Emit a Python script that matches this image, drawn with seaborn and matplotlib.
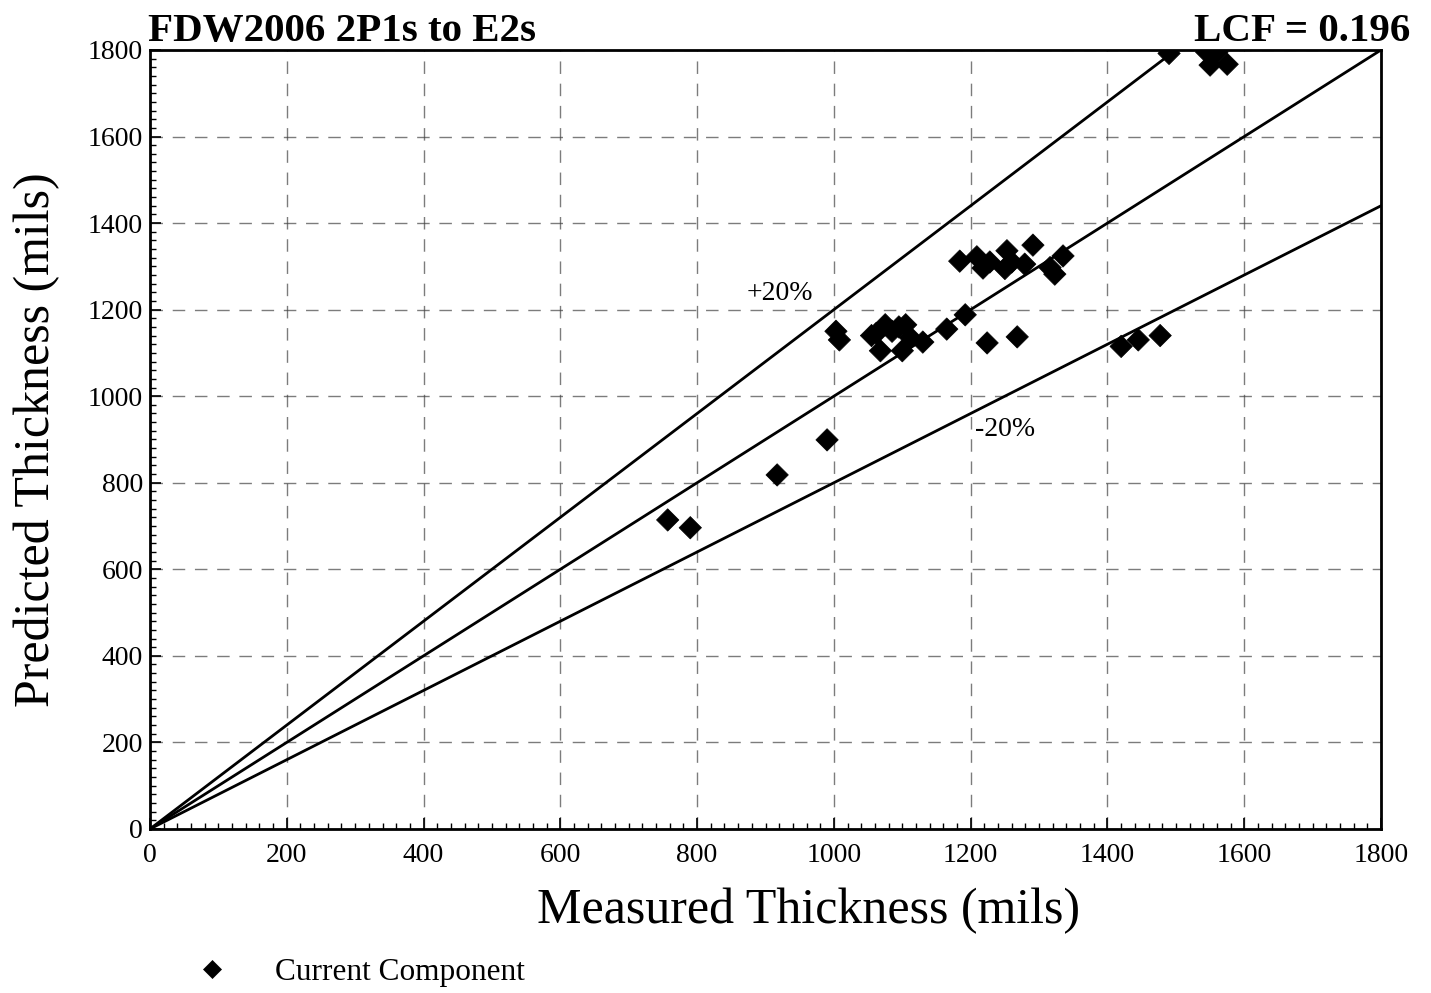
import matplotlib
matplotlib.use("Agg")
import matplotlib.pyplot as plt
from matplotlib.ticker import MultipleLocator
import seaborn as sns
import pandas as pd
import numpy as np

sns.set_theme(style="white")
plt.rcParams["font.family"] = ["Liberation Serif", "DejaVu Serif"]
plt.rcParams["text.color"] = "black"

# Measured vs predicted wall thickness (mils)
measured = [757, 790, 917, 990,
            1003, 1008, 1055, 1062, 1075, 1068, 1085, 1095, 1105, 1100, 1112, 1130, 1165, 1192, 1224, 1268,
            1184, 1209, 1218, 1228, 1253, 1260, 1250, 1279, 1291, 1316, 1323, 1335,
            1420, 1445, 1477,
            1490, 1545, 1560, 1550, 1575]
predicted = [714, 696, 818, 899,
             1150, 1130, 1140, 1145, 1165, 1105, 1150, 1160, 1165, 1105, 1135, 1125, 1155, 1188, 1123, 1137,
             1312, 1322, 1296, 1310, 1336, 1310, 1295, 1305, 1349, 1297, 1282, 1324,
             1115, 1130, 1140,
             1792, 1795, 1795, 1765, 1767]
series_name = "Current Component"
bound_labels = ["+20%", "-20%"]
ticks = [0, 200, 400, 600, 800, 1000, 1200, 1400, 1600, 1800]

df = pd.DataFrame({"Measured": measured, "Predicted": predicted, "Series": series_name})

fig = plt.figure(figsize=(14.31, 9.93), dpi=100)
ax = fig.add_axes([0.1048, 0.1652, 0.8603, 0.7845])

# Reference lines: 1:1 and +/-20%
xs = np.array([0, 1800])
for k in (1.0, 1.2, 0.8):
    ax.plot(xs, k * xs, color="black", lw=2.0, zorder=2)

sns.scatterplot(data=df, x="Measured", y="Predicted", hue="Series",
                palette=["black"], marker="D", s=130, edgecolor="black",
                linewidth=0.5, ax=ax, zorder=3, legend=True)

ax.set_xlim(0, 1800)
ax.set_ylim(0, 1800)
ax.set_xticks(ticks)
ax.set_yticks(ticks)
ax.xaxis.set_minor_locator(MultipleLocator(20))
ax.yaxis.set_minor_locator(MultipleLocator(20))
ax.tick_params(axis="both", which="major", direction="in", length=8, width=1.2,
               labelsize=20, color="black", labelcolor="black")
ax.tick_params(axis="x", which="major", pad=10)
ax.tick_params(axis="y", which="major", pad=5)
ax.tick_params(axis="both", which="minor", direction="in", length=4, width=1.0, color="black")
ax.tick_params(axis="x", which="both", top=False, bottom=True)
ax.tick_params(axis="y", which="both", left=True, right=False)
ax.grid(True, which="major", color="#444444", linestyle=(0, (9, 7)), linewidth=1.0, alpha=0.7)
for sp in ax.spines.values():
    sp.set_color("black")
    sp.set_linewidth(2.0)

ax.set_xlabel("Measured Thickness (mils)", fontsize=36, color="black")
ax.xaxis.set_label_coords(0.535, -0.075)
ax.set_ylabel("Predicted Thickness (mils)", fontsize=36, color="black")
ax.yaxis.set_label_coords(-0.073, 0.5)

ax.text(921, 1237, bound_labels[0], fontsize=20, color="black", ha="center", va="center")
ax.text(1250, 922, bound_labels[1], fontsize=20, color="black", ha="center", va="center")

ax.text(-0.002, 1.0, "FDW2006 2P1s to E2s", transform=ax.transAxes, fontsize=29.5,
        fontweight="bold", ha="left", va="bottom", color="black")
ax.text(1.0236, 1.0, "LCF = 0.196", transform=ax.transAxes, fontsize=29.5,
        fontweight="bold", ha="right", va="bottom", color="black")

ax.legend(loc="center left", bbox_to_anchor=(0.107, 0.021), bbox_transform=fig.transFigure,
          frameon=False, fontsize=22.5, handletextpad=1.0, markerscale=0.8,
          labelcolor="black")

fig.savefig("out.png", dpi=100)
